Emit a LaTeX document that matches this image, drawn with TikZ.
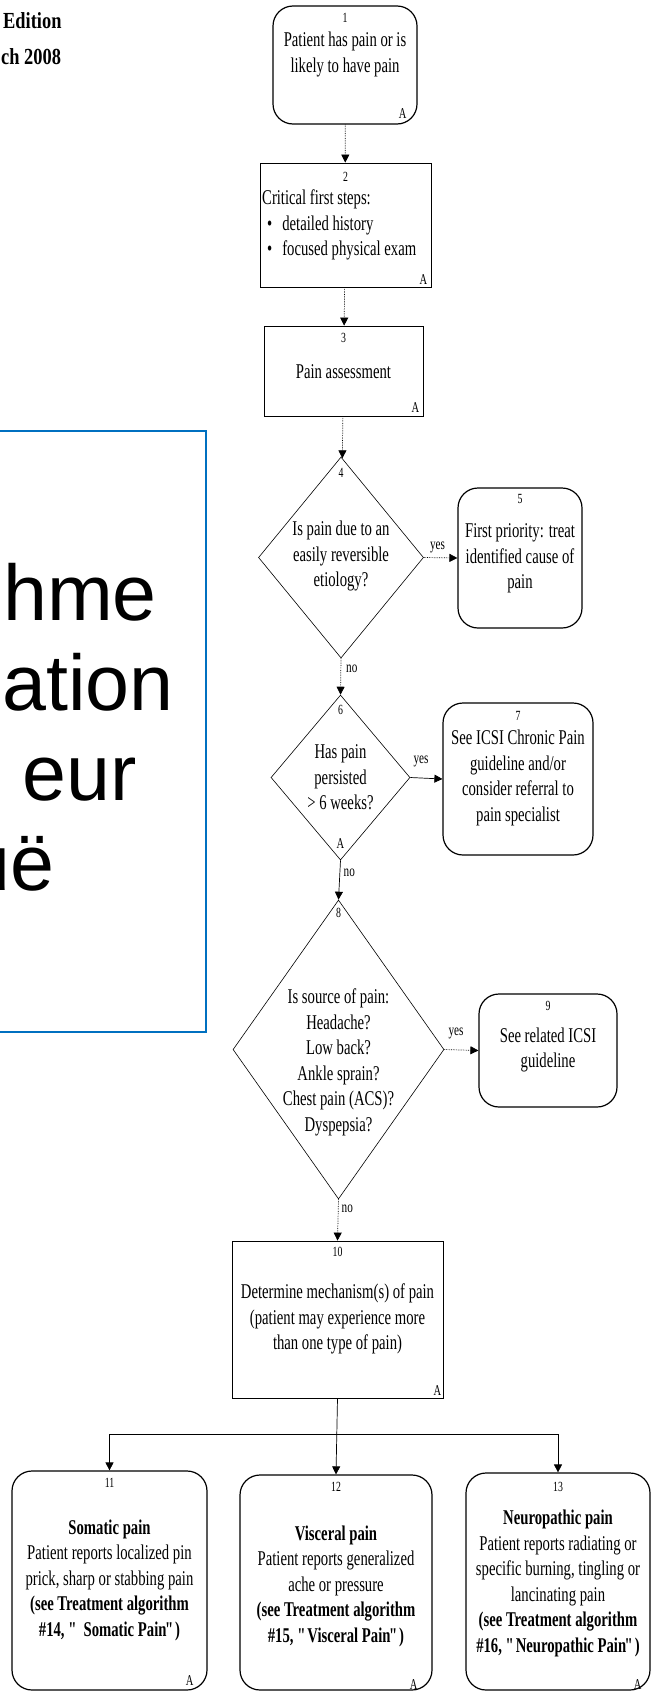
\documentclass[tikz,border=0pt]{standalone}
\usepackage{fontspec}
\setmainfont{Liberation Serif}[FakeStretch=0.7]
\newfontfamily\headfont{Liberation Serif}[FakeStretch=0.8]
\newfontfamily\slidefont{Liberation Sans}
\usepackage{tikz}
\usetikzlibrary{arrows.meta,positioning,shapes.geometric}
\definecolor{slideblue}{RGB}{0,112,192}
\newcommand{\oq}{\textquotedbl\kern-1.5pt}
\newcommand{\cq}{\kern-1.5pt\textquotedbl\kern-1.5pt}

\begin{document}
\begin{tikzpicture}[
    x=1pt, y=-1pt,
    txt/.style={font=\fontsize{21}{25.5}\selectfont, align=center, inner sep=0pt},
    num/.style={font=\fontsize{14}{14}\selectfont, inner sep=0pt},
    amark/.style={font=\fontsize{15}{15}\selectfont, inner sep=0pt},
    lbl/.style={font=\fontsize{16}{16}\selectfont, inner sep=0pt},
    rbox/.style={draw, line width=1.2pt, rounded corners=20pt, inner sep=0pt},
    sbox/.style={draw, line width=0.8pt, inner sep=0pt},
    dec/.style={draw, diamond, line width=0.6pt, inner sep=0pt},
    arr/.style={-{Triangle[length=8pt,width=8pt]}, line width=0.7pt},
    faint/.style={arr, densely dotted},
    big/.style={font=\slidefont\fontsize{79}{79}\selectfont, inner sep=0pt, anchor=base east}
  ]
    \useasboundingbox (0,0) rectangle (651,1692);
    \clip (0,0) rectangle (651,1692);

    % slide header and title box
    \node[font=\headfont\bfseries\fontsize{23}{23}\selectfont, anchor=base west, inner sep=0pt] (edition) at (3,28) {Edition};
    \node[font=\headfont\bfseries\fontsize{23}{23}\selectfont, anchor=base west, inner sep=0pt] (date) at (1,64) {ch 2008};
    \draw[slideblue, line width=1.5pt] (-10,431) rectangle (206,1032);
    \node[big] (title1) at (157,620) {hme};
    \node[big] (title2) at (174,710) {ation};
    \node[big] (title3) at (137,800) {eur};
    \node[big] (title4) at (55,890) {uë};

    % main column
    \node[rbox, minimum width=144pt, minimum height=118pt] (s1) at (345,65) {};
    \node[num, below=8pt of s1.north] (s1n) {1};
    \node[txt] (s1t) at (345,54.5) {Patient has pain or is\\likely to have pain};
    \node[amark, above left=6pt and 11pt of s1.south east] (s1a) {A};

    \node[sbox, minimum width=171pt, minimum height=124pt] (s2) at (345.5,225) {};
    \node[num, below=9pt of s2.north] (s2n) {2};
    \node[txt, align=left, anchor=west] (s2t) at (262,225) {Critical first steps:\\\hspace{5pt}\textbullet\hspace{10pt}detailed history\\\hspace{5pt}\textbullet\hspace{10pt}focused physical exam};
    \node[amark, above left=3pt and 4pt of s2.south east] (s2a) {A};

    \node[sbox, minimum width=159pt, minimum height=90pt] (s3) at (343.5,371) {};
    \node[num, below=7pt of s3.north] (s3n) {3};
    \node[txt] (s3t) at (343.5,372) {Pain assessment};
    \node[amark, above left=4pt and 4pt of s3.south east] (s3a) {A};

    \node[dec, minimum width=165pt, minimum height=201pt] (s4) at (341,557.5) {};
    \node[num, below=11pt of s4.north] (s4n) {4};
    \node[txt] (s4t) at (341,556) {Is pain due to an\\easily reversible\\etiology?};

    \node[rbox, minimum width=124pt, minimum height=140pt] (s5) at (520,558) {};
    \node[num, below=7pt of s5.north] (s5n) {5};
    \node[txt] (s5t) at (520,558.5) {First priority: treat\\identified cause of\\pain};

    \node[dec, minimum width=139pt, minimum height=165pt] (s6) at (340.5,777.5) {};
    \node[num, below=10pt of s6.north] (s6n) {6};
    \node[txt] (s6t) at (340.5,777.5) {Has pain\\persisted\\> 6 weeks?};
    \node[amark, above=12pt of s6.south] (s6a) {A};

    \node[rbox, minimum width=150pt, minimum height=152pt] (s7) at (518,779) {};
    \node[num, below=9pt of s7.north] (s7n) {7};
    \node[txt] (s7t) at (518,778) {See ICSI Chronic Pain\\guideline and/or\\consider referral to\\pain specialist};

    \node[dec, minimum width=211pt, minimum height=299pt] (s8) at (338.5,1049.5) {};
    \node[num, below=8pt of s8.north] (s8n) {8};
    \node[txt] (s8t) at (338.5,1062.5) {Is source of pain:\\Headache?\\Low back?\\Ankle sprain?\\Chest pain (ACS)?\\Dyspepsia?};

    \node[rbox, minimum width=138pt, minimum height=113pt] (s9) at (548,1050.5) {};
    \node[num, below=8pt of s9.north] (s9n) {9};
    \node[txt] (s9t) at (548,1050) {See related ICSI\\guideline};

    \node[sbox, minimum width=211pt, minimum height=157pt] (s10) at (337.5,1319.5) {};
    \node[num, below=6pt of s10.north] (s10n) {10};
    \node[txt] (s10t) at (337.5,1319) {Determine mechanism(s) of pain\\(patient may experience more\\than one type of pain)};
    \node[amark, above left=3pt and 2pt of s10.south east] (s10a) {A};

    % three mechanisms
    \node[rbox, minimum width=195pt, minimum height=219pt] (s11) at (109.5,1580.5) {};
    \node[num, below=8pt of s11.north] (s11n) {11};
    \node[txt] (s11t) at (109.5,1580) {\textbf{Somatic pain}\\Patient reports localized pin\\prick, sharp or stabbing pain\\\textbf{(see Treatment algorithm}\\\textbf{\#14, \textquotedbl{} Somatic Pain\cq)}};
    \node[amark, above left=5pt and 14pt of s11.south east] (s11a) {A};

    \node[rbox, minimum width=192pt, minimum height=215pt] (s12) at (336,1582.5) {};
    \node[num, below=8pt of s12.north] (s12n) {12};
    \node[txt] (s12t) at (336,1586) {\textbf{Visceral pain}\\Patient reports generalized\\ache or pressure\\\textbf{(see Treatment algorithm}\\\textbf{\#15, \oq Visceral Pain\cq)}};
    \node[amark, above left=1pt and 15pt of s12.south east] (s12a) {A};

    \node[rbox, minimum width=184pt, minimum height=217pt] (s13) at (558,1581.5) {};
    \node[num, below=10pt of s13.north] (s13n) {13};
    \node[txt] (s13t) at (558,1583.5) {\textbf{Neuropathic pain}\\Patient reports radiating or\\specific burning, tingling or\\lancinating pain\\\textbf{(see Treatment algorithm}\\\textbf{\#16, \oq Neuropathic Pain\cq)}};
    \node[amark, above left=1pt and 9pt of s13.south east] (s13a) {A};

    % yes / no labels
    \node[lbl, above right=4pt and 6pt of s4.east] (yes4) {yes};
    \node[lbl, below right=6pt and 5pt of s4.south] (no4) {no};
    \node[lbl, above right=10pt and 3pt of s6.east] (yes6) {yes};
    \node[lbl, below right=8pt and 3pt of s6.south] (no6) {no};
    \node[lbl, above right=10pt and 4pt of s8.east] (yes8) {yes};
    \node[lbl, below right=5pt and 3pt of s8.south] (no8) {no};

    % connectors
    \draw[faint] (s1) -- (s2);
    \draw[faint] (s2) -- (s3);
    \draw[faint] (s3) -- (s4);
    \draw[faint] (s4.east) -- (s5.west);
    \draw[faint] (s4.south) -- (s6.north);
    \draw[arr] (s6.east) -- (s7.west);
    \draw[arr] (s6.south) -- (s8.north);
    \draw[faint] (s8.east) -- (s9.west);
    \draw[faint] (s8.south) -- (s10.north);
    \coordinate (split) at (337.5,1434);
    \draw[arr] (s10.south) -- (s12.north);
    \draw[arr] (split) -| (s11.north);
    \draw[arr] (split) -| (s13.north);
\end{tikzpicture}
\end{document}
